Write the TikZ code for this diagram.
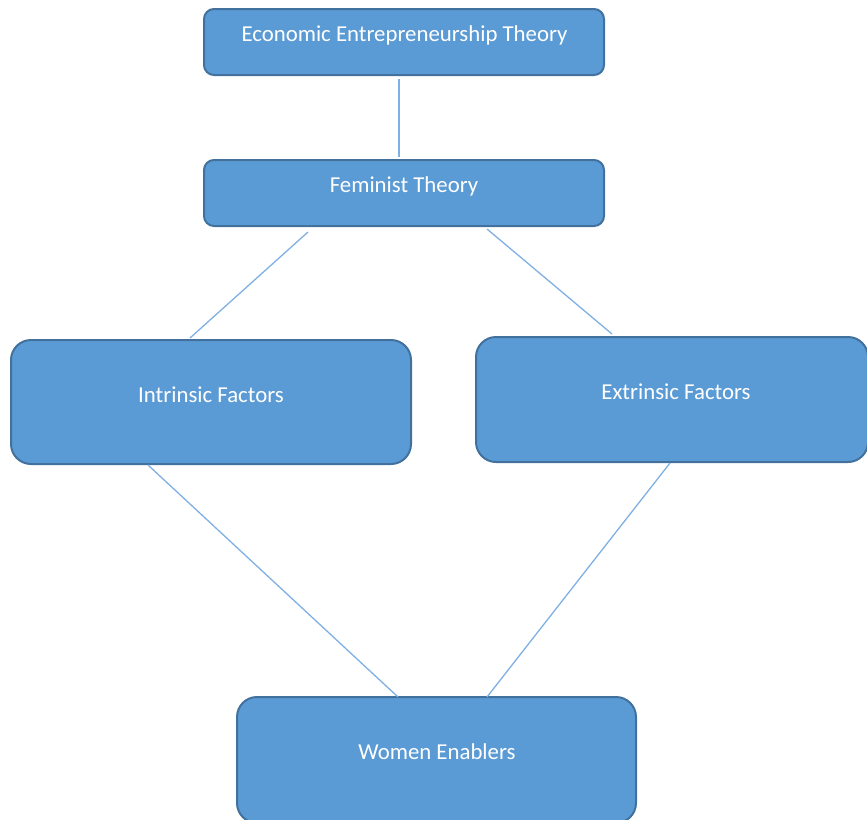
\documentclass[tikz,border=0pt]{standalone}
\usepackage{fontspec}
\setmainfont{Carlito}
\usetikzlibrary{calc}
\definecolor{boxfill}{HTML}{5B9BD5}
\definecolor{boxedge}{HTML}{41719C}
\definecolor{linkc}{HTML}{7FB0E4}
\begin{document}
\begin{tikzpicture}[x=1pt,y=-1pt,
  box/.style={draw=boxedge, line width=2pt, fill=boxfill, rounded corners=#1, inner sep=0pt},
  box/.default=10pt,
  lbl/.style={text=white, font=\fontsize{22.8}{27}\selectfont, inner sep=0pt},
  link/.style={draw=linkc, line width=1.3pt}]
\useasboundingbox (0,0) rectangle (867,819);
\clip (0,0) rectangle (867,819);
% boxes
\node[box, minimum width=400, minimum height=66] (eco) at (404,42) {};
\node[box, minimum width=400, minimum height=66] (fem) at (404,193) {};
\node[box=20pt, minimum width=400, minimum height=124] (intr) at (211,402) {};
\node[box=20pt, minimum width=392, minimum height=125] (extr) at (672,399.5) {};
\node[box=20pt, minimum width=399, minimum height=126] (wom) at (436.5,760) {};
% labels
\node[lbl] (ecot) at (404.5,35.5) {Economic Entrepreneurship Theory};
\node[lbl] (femt) at (404,186.5) {Feminist Theory};
\node[lbl] (intrt) at (211,394.5) {Intrinsic Factors};
\node[lbl] (extrt) at (676,391.5) {Extrinsic Factors};
\node[lbl] (womt) at (437,751.5) {Women Enablers};
% connector ends
\coordinate (a1) at (399,79);
\coordinate (a2) at (399,157);
\coordinate (b1) at (308,232);
\coordinate (b2) at (190,338);
\coordinate (c1) at (487,229);
\coordinate (c2) at (612,334);
\coordinate (d1) at (148,465);
\coordinate (d2) at (398,697);
\coordinate (e1) at (670,463);
\coordinate (e2) at (487,697);
\draw[link] (a1) -- (a2);
\draw[link] (b1) -- (b2);
\draw[link] (c1) -- (c2);
\draw[link] (d1) -- (d2);
\draw[link] (e1) -- (e2);
\end{tikzpicture}
\end{document}
